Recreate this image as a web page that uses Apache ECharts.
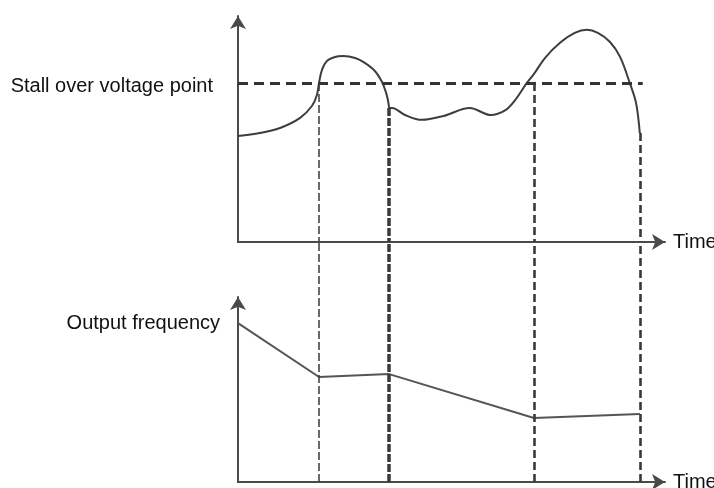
<!DOCTYPE html>
<html>
<head>
<meta charset="utf-8">
<script src="https://cdn.jsdelivr.net/npm/echarts@6/dist/echarts.min.js"></script>
<style>
html, body { margin: 0; padding: 0; background: #fff; }
#main { width: 714px; height: 488px; }
</style>
</head>
<body>
<div id="main"></div>
<script>
// 电压曲线（上图），时间 0-100，电压 0-100
var voltRise = [[0, 48.2], [5.2, 49.5], [10, 51.8], [14.8, 56.4], [17.6, 61.8], [18.8, 66.8], [19.3, 72.3],
    [20, 78.2], [21.2, 82.3], [23.1, 84.1], [25, 84.5], [27.9, 83.6], [30.2, 81.4], [32.6, 77.7],
    [34.3, 72.7], [35.2, 68.2], [35.7, 64.5], [36, 60.9]];
var voltRest = [[36, 60.9], [36.7, 60.9], [39.8, 57.7], [43.8, 55.5], [49, 57.3], [55.2, 60.9],
    [60.2, 57.7], [63.6, 59.8], [66, 64.5], [68.8, 72.3], [70.5, 76.4], [73.1, 83.6],
    [76.7, 90.5], [80.2, 95], [83.1, 96.4], [85.7, 95], [88.6, 90.9], [91, 84.1], [93.3, 72.3],
    [94.8, 63.2], [95.7, 49.5]];
// 失速过压点
var stallLevel = 72.3;
var stallEnd = 96.4;
// 输出频率（下图）
var freq = [[0, 88.8], [19.3, 58.7], [36, 60.3], [70.5, 35.8], [95.7, 38.0]];
// 竖直虚线：时间点、上图起点、线宽、虚线样式
var dropX = [19.3, 36, 70.5, 95.7];
var dropFrom = [72.3, 60.9, 72.3, 49.5];
var dropWidth = [1.5, 3.5, 2.6, 2.6];
var dropDash = [[8, 3], [8, 2], [8, 4], [8, 4]];

var chart = echarts.init(document.getElementById('main'));

var axisColor = '#4a4a4a';
var font = 'Liberation Sans, Arial, sans-serif';

function xAx(idx, showName) {
    return {
        type: 'value', gridIndex: idx, min: 0, max: 101.7,
        name: showName ? 'Time' : '',
        nameLocation: 'end', nameGap: 8,
        nameTextStyle: { color: '#111', fontSize: 20, fontFamily: font, verticalAlign: 'middle' },
        axisLine: { show: showName, symbol: ['none', 'arrow'], symbolSize: [12, 13],
            lineStyle: { color: axisColor, width: 2 } },
        axisTick: { show: false }, axisLabel: { show: false }, splitLine: { show: false }
    };
}
function yAx(idx, show, max) {
    return {
        type: 'value', gridIndex: idx, min: 0, max: max,
        axisLine: { show: show, onZero: false, symbol: ['none', 'arrow'], symbolSize: [12, 13],
            lineStyle: { color: axisColor, width: 2 } },
        axisTick: { show: false }, axisLabel: { show: false }, splitLine: { show: false }
    };
}

var topDrops = dropX.map(function (x, i) {
    return [{ coord: [x, dropFrom[i]], lineStyle: { width: dropWidth[i], type: dropDash[i] } },
            { coord: [x, 0] }];
});
var linkDrops = dropX.map(function (x, i) {
    return { xAxis: x, lineStyle: { width: dropWidth[i], type: dropDash[i] } };
});

var option = {
    animation: false,
    backgroundColor: '#fff',
    grid: [
        { left: 238, width: 427, top: 16, height: 226, outerBoundsMode: 'none', containLabel: false },
        { left: 238, width: 427, top: 297, height: 185, outerBoundsMode: 'none', containLabel: false },
        { left: 238, width: 427, top: 242, height: 240, outerBoundsMode: 'none', containLabel: false }
    ],
    xAxis: [xAx(0, true), xAx(1, true), xAx(2, false)],
    yAxis: [yAx(0, true, 102.7), yAx(1, true, 103.4), yAx(2, false, 100)],
    series: [
        {
            type: 'line', xAxisIndex: 0, yAxisIndex: 0, data: voltRise, smooth: 0.35,
            showSymbol: false, lineStyle: { color: '#3d3d3d', width: 2 },
            markLine: {
                silent: true, symbol: 'none',
                lineStyle: { color: '#333', width: 3, type: [10, 6] },
                label: { show: true, position: 'start', distance: 25, formatter: 'Stall over voltage point',
                    color: '#111', fontSize: 20, fontFamily: font, offset: [0, 4] },
                data: [[{ coord: [0, stallLevel] }, { coord: [stallEnd, stallLevel] }]]
            }
        },
        {
            type: 'line', xAxisIndex: 0, yAxisIndex: 0, data: voltRest, smooth: 0.35,
            showSymbol: false, lineStyle: { color: '#3d3d3d', width: 2 },
            markLine: {
                silent: true, symbol: 'none', label: { show: false },
                lineStyle: { color: '#3a3a3a' },
                data: topDrops
            }
        },
        {
            type: 'line', xAxisIndex: 1, yAxisIndex: 1, data: freq,
            showSymbol: true, symbolSize: 0,
            lineStyle: { color: '#555', width: 2 },
            label: {
                show: true, position: 'left', distance: 18, color: '#111', fontSize: 20, fontFamily: font,
                formatter: function (p) { return p.dataIndex === 0 ? 'Output frequency' : ''; }
            }
        },
        {
            type: 'line', xAxisIndex: 2, yAxisIndex: 2, data: [],
            markLine: {
                silent: true, symbol: 'none', label: { show: false },
                lineStyle: { color: '#3a3a3a' },
                data: linkDrops
            }
        }
    ]
};

chart.setOption(option);
window.addEventListener('resize', function () { chart.resize(); });
</script>
</body>
</html>
